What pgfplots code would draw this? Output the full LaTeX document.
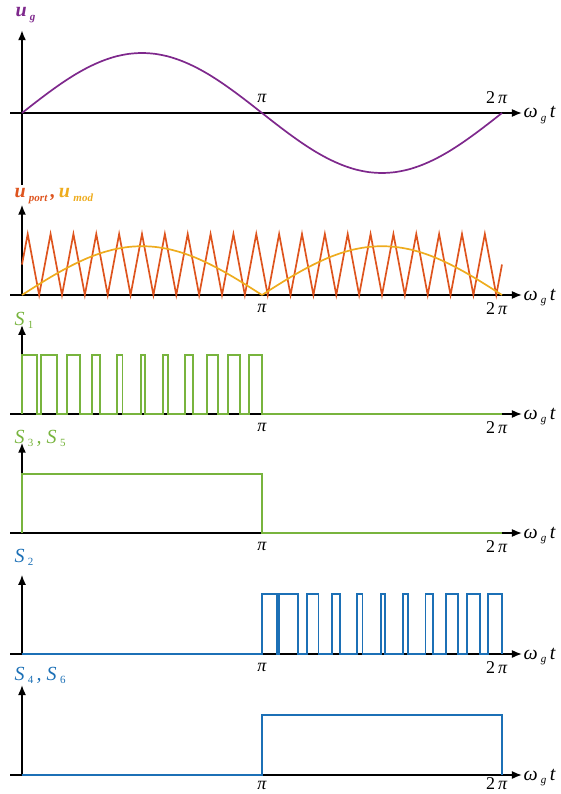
\documentclass[border=0pt]{standalone}
\usepackage{pgfplots}
\pgfplotsset{compat=1.18}
\usepackage{fontspec}
\setmainfont{Liberation Serif}
\usetikzlibrary{arrows.meta}

\definecolor{ugcol}{RGB}{126,40,140}
\definecolor{portcol}{RGB}{222,84,30}
\definecolor{modcol}{RGB}{238,172,30}
\definecolor{scol}{RGB}{120,180,62}
\definecolor{bcol}{RGB}{28,112,182}

\newcommand{\sub}[1]{\raisebox{-0.4ex}{\fontsize{11}{11}\selectfont #1}}
\newcommand{\nsub}[1]{\,\raisebox{-0.4ex}{\fontsize{11}{11}\selectfont\upshape #1}}
\newcommand{\lbl}{\fontsize{20}{20}\selectfont\itshape}
\newcommand{\tk}{\fontsize{18}{18}\selectfont\itshape}

\pgfplotsset{
  wave/.style={
    axis lines=middle,
    axis line style={line width=1.6pt, -{Latex[length=10pt,width=8pt]}},
    x=1.3333pt,
    xmin=-9, xmax=375,
    xtick=\empty, ytick=\empty,
    clip=false,
    anchor=origin,
    enlargelimits=false,
    every axis plot/.append style={line width=1.7pt},
  }
}

\begin{document}
\begin{tikzpicture}
\useasboundingbox (0pt,0pt) rectangle (561pt,-794pt);

% u_g
\begin{axis}[wave, at={(22pt,-113pt)}, y=60pt, ymin=-1.2, ymax=1.38]
\addplot[ugcol, smooth] coordinates {
(0,0) (10,0.174) (20,0.342) (30,0.5) (40,0.643) (50,0.766) (60,0.866) (70,0.94) (80,0.985) (90,1)
(100,0.985) (110,0.94) (120,0.866) (130,0.766) (140,0.643) (150,0.5) (160,0.342) (170,0.174) (180,0)
(190,-0.174) (200,-0.342) (210,-0.5) (220,-0.643) (230,-0.766) (240,-0.866) (250,-0.94) (260,-0.985) (270,-1)
(280,-0.985) (290,-0.94) (300,-0.866) (310,-0.766) (320,-0.643) (330,-0.5) (340,-0.342) (350,-0.174) (360,0)};
\node[anchor=base west, xshift=-10pt, yshift=96pt, text=ugcol] at (axis cs:0,0)
  {\lbl\bfseries u\,\sub{g}};
\node[anchor=base, yshift=10pt] at (axis cs:180,0) {\tk π};
\node[anchor=base, yshift=9pt] at (axis cs:356,0) {\tk\upshape 2\,\itshape π};
\node[anchor=base west, yshift=-5pt, xshift=-2pt] at (axis cs:375,0) {\lbl ω\,\sub{g}\,t};
\end{axis}

% u_port, u_mod
\begin{axis}[wave, at={(22pt,-295pt)}, y=61pt, ymin=0, ymax=1.48]
\addplot[portcol] coordinates {
(0,0.5) (4.29,1) (12.86,0) (21.43,1) (30,0) (38.57,1) (47.14,0) (55.71,1) (64.29,0)
(72.86,1) (81.43,0) (90,1) (98.57,0) (107.14,1) (115.71,0) (124.29,1) (132.86,0)
(141.43,1) (150,0) (158.57,1) (167.14,0) (175.71,1) (184.29,0) (192.86,1) (201.43,0)
(210,1) (218.57,0) (227.14,1) (235.71,0) (244.29,1) (252.86,0) (261.43,1) (270,0)
(278.57,1) (287.14,0) (295.71,1) (304.29,0) (312.86,1) (321.43,0) (330,1) (338.57,0)
(347.14,1) (355.71,0) (360,0.5)};
\addplot[modcol, smooth] coordinates {
(0,0) (10,0.139) (20,0.274) (30,0.4) (40,0.514) (50,0.613) (60,0.693) (70,0.752) (80,0.788) (90,0.8)
(100,0.788) (110,0.752) (120,0.693) (130,0.613) (140,0.514) (150,0.4) (160,0.274) (170,0.139) (180,0)};
\addplot[modcol, smooth] coordinates {
(180,0) (190,0.139) (200,0.274) (210,0.4) (220,0.514) (230,0.613) (240,0.693) (250,0.752) (260,0.788) (270,0.8)
(280,0.788) (290,0.752) (300,0.693) (310,0.613) (320,0.514) (330,0.4) (340,0.274) (350,0.139) (360,0)};
\node[anchor=base west, xshift=-11pt, yshift=97pt] at (axis cs:0,0)
  {\lbl\bfseries\textcolor{portcol}{u\,\sub{port}\,,}\,\textcolor{modcol}{u\,\sub{mod}}};
\node[anchor=base, yshift=-17pt] at (axis cs:180,0) {\tk π};
\node[anchor=base, yshift=-19pt] at (axis cs:356,0) {\tk\upshape 2\,\itshape π};
\node[anchor=base west, yshift=-5pt, xshift=-2pt] at (axis cs:375,0) {\lbl ω\,\sub{g}\,t};
\end{axis}

% S1
\begin{axis}[wave, at={(22pt,-414pt)}, y=59pt, ymin=0, ymax=1.51]
\addplot[scol] coordinates {
(0,0) (0,1) (11,1) (11,0) (14,0) (14,1) (26.5,1) (26.5,0) (34,0) (34,1) (43.5,1) (43.5,0)
(52.5,0) (52.5,1) (58.5,1) (58.5,0) (71,0) (71,1) (75.3,1) (75.3,0) (89,0) (89,1) (92,1) (92,0)
(106,0) (106,1) (109.5,1) (109.5,0) (122.5,0) (122.5,1) (128,1) (128,0) (138.5,0) (138.5,1) (147,1) (147,0)
(154.5,0) (154.5,1) (163.5,1) (163.5,0) (170,0) (170,1) (180,1) (180,0) (360,0)};
\node[anchor=base west, xshift=-11pt, yshift=89pt, text=scol] at (axis cs:0,0) {\lbl S\nsub{1}};
\node[anchor=base, yshift=-17pt] at (axis cs:180,0) {\tk π};
\node[anchor=base, yshift=-19pt] at (axis cs:356,0) {\tk\upshape 2\,\itshape π};
\node[anchor=base west, yshift=-5pt, xshift=-2pt] at (axis cs:375,0) {\lbl ω\,\sub{g}\,t};
\end{axis}

% S3, S5
\begin{axis}[wave, at={(22pt,-533pt)}, y=59pt, ymin=0, ymax=1.53]
\addplot[scol] coordinates {(0,0) (0,1) (180,1) (180,0) (360,0)};
\node[anchor=base west, xshift=-11pt, yshift=90pt, text=scol] at (axis cs:0,0) {\lbl S\nsub{3}\,, S\nsub{5}};
\node[anchor=base, yshift=-17pt] at (axis cs:180,0) {\tk π};
\node[anchor=base, yshift=-19pt] at (axis cs:356,0) {\tk\upshape 2\,\itshape π};
\node[anchor=base west, yshift=-5pt, xshift=-2pt] at (axis cs:375,0) {\lbl ω\,\sub{g}\,t};
\end{axis}

% S2
\begin{axis}[wave, at={(22pt,-654pt)}, y=60pt, ymin=0, ymax=1.32]
\addplot[bcol] coordinates {
(0,0) (180,0) (180,1) (191,1) (191,0) (193,0) (193,1) (207,1) (207,0) (214,0) (214,1) (222.3,1) (222.3,0)
(232.7,0) (232.7,1) (238.5,1) (238.5,0) (251,0) (251,1) (255.3,1) (255.3,0) (269,0) (269,1) (272,1) (272,0)
(286,0) (286,1) (289.7,1) (289.7,0) (302.7,0) (302.7,1) (308.5,1) (308.5,0) (318,0) (318,1) (327,1) (327,0)
(334,0) (334,1) (343.5,1) (343.5,0) (349.5,0) (349.5,1) (360,1) (360,0)};
\node[anchor=base west, xshift=-11pt, yshift=92pt, text=bcol] at (axis cs:0,0) {\lbl S\nsub{2}};
\node[anchor=base, yshift=-17pt] at (axis cs:180,0) {\tk π};
\node[anchor=base, yshift=-19pt] at (axis cs:356,0) {\tk\upshape 2\,\itshape π};
\node[anchor=base west, yshift=-5pt, xshift=-2pt] at (axis cs:375,0) {\lbl ω\,\sub{g}\,t};
\end{axis}

% S4, S6
\begin{axis}[wave, at={(22pt,-775pt)}, y=60pt, ymin=0, ymax=1.5]
\addplot[bcol] coordinates {(0,0) (180,0) (180,1) (360,1) (360,0)};
\node[anchor=base west, xshift=-11pt, yshift=95pt, text=bcol] at (axis cs:0,0) {\lbl S\nsub{4}\,, S\nsub{6}};
\node[anchor=base, yshift=-14pt] at (axis cs:180,0) {\tk π};
\node[anchor=base, yshift=-14pt] at (axis cs:356,0) {\tk\upshape 2\,\itshape π};
\node[anchor=base west, yshift=-5pt, xshift=-2pt] at (axis cs:375,0) {\lbl ω\,\sub{g}\,t};
\end{axis}
\end{tikzpicture}
\end{document}
